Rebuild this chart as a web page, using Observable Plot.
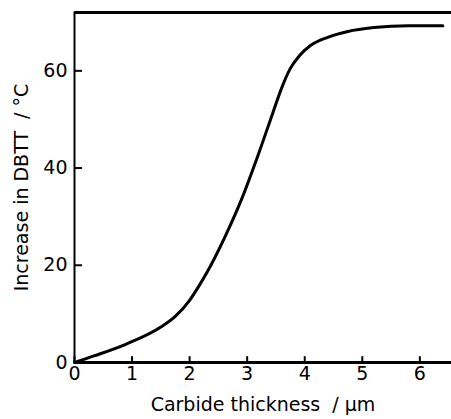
<!DOCTYPE html>
<html>
<head>
<meta charset="utf-8">
<script src="https://cdn.jsdelivr.net/npm/d3@7"></script>
<script src="https://cdn.jsdelivr.net/npm/@observablehq/plot@0.6"></script>
<style>
  html, body { margin: 0; padding: 0; background: #fff; }
  #chart svg { display: block; }
</style>
</head>
<body>
<div id="chart"></div>
<script>
const thickness = [0, 0.35, 0.9, 1.5, 1.75, 2.0, 2.15, 2.3, 2.6, 2.9, 3.2, 3.45, 3.6, 3.75, 3.9, 4.1, 4.4, 4.75, 5.2, 5.8, 6.4];
const increase  = [0, 1.4, 3.8, 7.3, 9.5, 12.8, 15.5, 18.5, 25.5, 33.5, 43, 51.5, 56.5, 60.5, 63, 65.2, 66.9, 68.1, 68.9, 69.3, 69.3];
const xTicks = [0, 1, 2, 3, 4, 5, 6];
const yTicks = [0, 20, 40, 60];
const xLabel = "Carbide thickness  / µm";
const yLabel = "Increase in DBTT  / °C";

const data = thickness.map((x, i) => ({x, y: increase[i]}));
const xTickData = xTicks.map(v => ({v, a: 0, b: 1.3}));
const yTickData = yTicks.map(v => ({v, a: 0, b: 0.13}));

const chart = Plot.plot({
  width: 451,
  height: 419,
  marginLeft: 74,
  marginRight: 0,
  marginTop: 12,
  marginBottom: 57,
  style: {fontFamily: "DejaVu Sans", fontSize: "19px", color: "#000", background: "#fff"},
  x: {domain: [0, 6.55]},
  y: {domain: [0, 72]},
  marks: [
    Plot.ruleY([72], {strokeWidth: 3}),
    Plot.ruleY([0], {strokeWidth: 3}),
    Plot.ruleX([0], {strokeWidth: 2}),
    Plot.link(xTickData, {x1: "v", x2: "v", y1: "a", y2: "b", stroke: "#000", strokeWidth: 2}),
    Plot.link(yTickData, {y1: "v", y2: "v", x1: "a", x2: "b", stroke: "#000", strokeWidth: 2}),
    Plot.axisX({ticks: xTicks, tickSize: 0, tickPadding: 4, fontSize: 19, tickFormat: "d",
      label: xLabel, labelAnchor: "center", labelArrow: "none", labelOffset: 48}),
    Plot.axisY({ticks: yTicks, tickSize: 0, tickPadding: 7, fontSize: 19, tickFormat: "d",
      label: yLabel, labelAnchor: "center", labelArrow: "none", labelOffset: 60}),
    Plot.line(data, {x: "x", y: "y", curve: "monotone-x", strokeWidth: 3, stroke: "#000"})
  ]
});
document.getElementById("chart").append(chart);
</script>
</body>
</html>
